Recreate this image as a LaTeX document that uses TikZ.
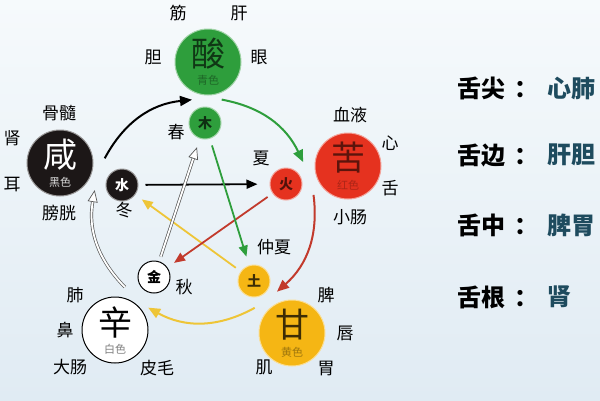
\documentclass[tikz,border=0pt]{standalone}
\usepackage{fontspec}
\setmainfont{Noto Sans CJK SC}
\usetikzlibrary{arrows.meta}

\definecolor{bgtop}{HTML}{F6FAFC}
\definecolor{bgbot}{HTML}{E0EBF3}
\definecolor{woodG}{HTML}{2E9E3C}
\definecolor{fireR}{HTML}{E5321F}
\definecolor{earthY}{HTML}{F5B614}
\definecolor{waterK}{HTML}{1C1717}
\definecolor{tongueV}{HTML}{1E4B5E}
\definecolor{yellowArr}{HTML}{EEC537}
\definecolor{redArr}{HTML}{C23A2C}

\tikzset{
  wei/.style={circle, minimum size=66pt, inner sep=0pt, line width=1pt},
  xing/.style={circle, minimum size=32pt, inner sep=0pt, line width=1pt},
  weizi/.style={font=\fontsize{34}{34}\selectfont, inner sep=0pt},
  sezi/.style={font=\fontsize{11}{11}\selectfont, inner sep=0pt},
  xingzi/.style={font=\fontsize{14}{14}\selectfont\bfseries, inner sep=0pt},
  organ/.style={font=\fontsize{17}{17}\selectfont, inner sep=0pt},
  tongue/.style={font=\fontsize{24}{24}\selectfont\bfseries, inner sep=0pt, anchor=west},
  ring/.style={line width=2pt, -{Triangle[length=12pt,width=10pt]}},
  star/.style={line width=1.8pt, -{Triangle[length=11pt,width=9pt]}},
  hollow/.style={draw=gray!70!black, double=white, double distance=1.8pt, line width=0.7pt,
    -{Triangle[open,length=12pt,width=10pt,fill=white]}},
}

\begin{document}
\begin{tikzpicture}[x=1pt, y=1pt]
  \shade[top color=bgtop, bottom color=bgbot] (0,0) rectangle (600,-400);
  \useasboundingbox (0,0) rectangle (600,-400);

  % five tastes
  \node[wei, fill=woodG, draw=woodG!45!white] (suan) at (208,-62) {};
  \node[wei, fill=fireR, draw=fireR!45!white] (ku) at (348,-166) {};
  \node[wei, fill=earthY, draw=earthY!45!white] (gan) at (292,-333) {};
  \node[wei, fill=white, draw=black] (xin) at (115,-330) {};
  \node[wei, fill=waterK, draw=waterK!45!white] (xian) at (60,-163) {};

  \node[weizi, text=woodG!35!black] (suan-z) at ([yshift=8pt]suan.center) {酸};
  \node[sezi, text=woodG!65!black] (suan-s) at ([yshift=-18pt]suan.center) {青色};
  \node[weizi, text=fireR!40!black] (ku-z) at ([yshift=8pt]ku.center) {苦};
  \node[sezi, text=fireR!75!black] (ku-s) at ([yshift=-19pt]ku.center) {红色};
  \node[weizi, text=earthY!25!black] (gan-z) at ([yshift=8pt]gan.center) {甘};
  \node[sezi, text=earthY!65!black] (gan-s) at ([yshift=-19pt]gan.center) {黄色};
  \node[weizi, text=black] (xin-z) at ([yshift=8pt]xin.center) {辛};
  \node[sezi, text=gray] (xin-s) at ([yshift=-19pt]xin.center) {白色};
  \node[weizi, text=white] (xian-z) at ([yshift=8pt]xian.center) {咸};
  \node[sezi, text=gray!30] (xian-s) at ([yshift=-19pt]xian.center) {黑色};

  % five phases
  \node[xing, fill=woodG, draw=woodG!45!white, text=woodG!30!black, xingzi] (mu) at (205,-123) {木};
  \node[xing, fill=fireR, draw=fireR!45!white, text=fireR!35!black, xingzi] (huo) at (286,-184) {火};
  \node[xing, fill=earthY, draw=earthY!45!white, text=earthY!25!black, xingzi] (tu) at (254,-281) {土};
  \node[xing, fill=white, draw=black, text=black, xingzi] (jin) at (154,-277) {金};
  \node[xing, fill=waterK, draw=waterK!45!white, text=white, xingzi] (shui) at (122,-185) {水};

  \node[organ] (chun) at (176,-132) {春};
  \node[organ] (xia) at (261,-158) {夏};
  \node[organ] (zhongxia) at (274,-247) {仲夏};
  \node[organ] (qiu) at (184,-287) {秋};
  \node[organ] (dong) at (124,-210) {冬};

  % organs
  \node[organ] (jinmai) at (178,-13) {筋};
  \node[organ] (gan1) at (239,-13) {肝};
  \node[organ] (dan) at (153,-57) {胆};
  \node[organ] (yan) at (259,-57) {眼};

  \node[organ] (xueye) at (350,-115) {血液};
  \node[organ] (xinzang) at (390,-143) {心};
  \node[organ] (she) at (390,-188) {舌};
  \node[organ] (xiaochang) at (350,-217) {小肠};

  \node[organ] (pi) at (326,-295) {脾};
  \node[organ] (chun1) at (345,-333) {唇};
  \node[organ] (wei1) at (326,-368) {胃};
  \node[organ] (ji) at (264,-367) {肌};

  \node[organ] (fei) at (75,-295) {肺};
  \node[organ] (bi) at (65,-330) {鼻};
  \node[organ] (dachang) at (70,-367) {大肠};
  \node[organ] (pimao) at (157,-368) {皮毛};

  \node[organ] (gusui) at (59,-113) {骨髓};
  \node[organ] (shen) at (12,-138) {肾};
  \node[organ] (er) at (12,-185) {耳};
  \node[organ] (pangguang) at (59,-213) {膀胱};

  % generating ring
  \draw[ring, black] ([shift={(6:45)}]xian.center) to[bend left=28] ([shift={(247:41)}]suan.center);
  \draw[ring, woodG] ([shift={(-70:40)}]suan.center) to[bend left=27] ([shift={(175:45)}]ku.center);
  \draw[ring, redArr] ([shift={(220:45)}]ku.center) to[bend left=28] ([shift={(110:44)}]gan.center);
  \draw[ring, yellowArr] ([shift={(146:45)}]gan.center) to[bend left=29] ([shift={(34:40)}]xin.center);
  \draw[hollow] ([shift={(77:44)}]xin.center) to[bend left=27] ([shift={(-38:44)}]xian.center);

  % controlling star
  \draw[star, yellowArr, shorten <=6pt, shorten >=8pt] (tu) -- (shui);
  \draw[star, redArr, shorten <=6pt, shorten >=8pt] (huo) -- (jin);
  \draw[star, black, shorten <=7pt, shorten >=12pt] (shui) -- (huo);
  \draw[star, woodG, shorten <=7pt, shorten >=9pt] (mu) -- (tu);
  \draw[hollow, shorten <=5pt, shorten >=9pt] (jin) -- (mu);

  % tongue
  \node[tongue] (jian) at (457,-88) {舌尖\hspace{9pt}：};
  \node[tongue, text=tongueV] (jian-v) at (547,-88) {心肺};
  \node[tongue] (bian) at (457,-155) {舌边\hspace{9pt}：};
  \node[tongue, text=tongueV] (bian-v) at (547,-155) {肝胆};
  \node[tongue] (zhong) at (457,-225) {舌中\hspace{9pt}：};
  \node[tongue, text=tongueV] (zhong-v) at (547,-225) {脾胃};
  \node[tongue] (gen) at (457,-297) {舌根\hspace{9pt}：};
  \node[tongue, text=tongueV] (gen-v) at (547,-297) {肾};
\end{tikzpicture}
\end{document}
